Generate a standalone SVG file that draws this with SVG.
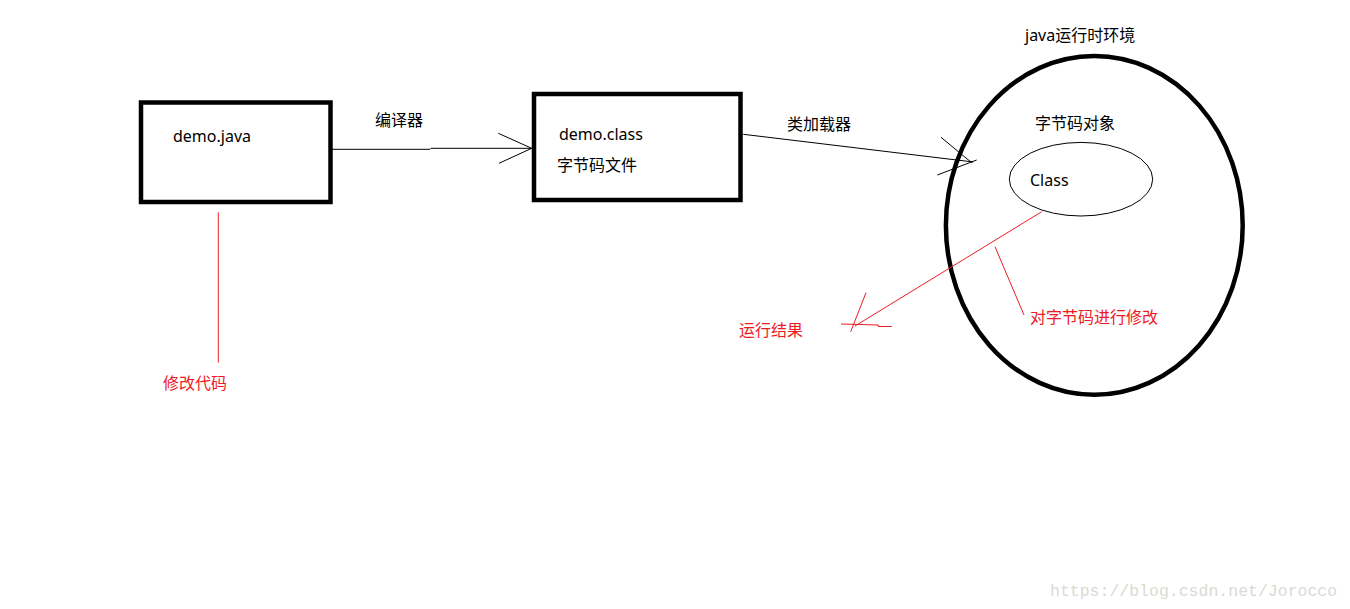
<svg xmlns="http://www.w3.org/2000/svg" width="1350" height="609" viewBox="0 0 1350 609">
<style>
  .box { fill: none; stroke: #000; stroke-width: 4.5; }
  .thin { fill: none; stroke: #000; stroke-width: 1; }
  .red { fill: none; stroke: #ed1c24; stroke-width: 1; }
  .t { font-family: "Noto Sans", "Noto Sans CJK SC", sans-serif; font-size: 16px; fill: #000; }
  .tr { font-family: "Noto Sans", "Noto Sans CJK SC", sans-serif; font-size: 16px; fill: #ed1c24; }
  .wm { font-family: "Liberation Mono", monospace; font-size: 16.5px; fill: #dcd9d4; }
</style>
<rect width="1350" height="609" fill="#fff"/>
<g id="demo-java">
  <rect class="box" x="141" y="102.5" width="189.5" height="99.5"/>
  <text class="t" x="173" y="142">demo.java</text>
</g>
<g id="demo-class">
  <rect class="box" x="534" y="94" width="206.5" height="106"/>
  <text class="t" x="559" y="140">demo.class</text>
  <text class="t" x="557" y="171">字节码文件</text>
</g>
<g id="jre">
  <ellipse class="box" cx="1094.3" cy="225.4" rx="148.4" ry="169.4"/>
  <text class="t" x="1025" y="41">java运行时环境</text>
  <text class="t" x="1035" y="129">字节码对象</text>
</g>
<g id="class-obj">
  <ellipse class="thin" cx="1081" cy="179.2" rx="71.7" ry="36.8"/>
  <text class="t" x="1030" y="186">Class</text>
</g>
<g id="labels">
  <text class="t" x="375" y="126">编译器</text>
  <text class="t" x="787" y="130">类加载器</text>
  <text class="tr" x="163" y="389">修改代码</text>
  <text class="tr" x="739" y="336">运行结果</text>
  <text class="tr" x="1030" y="323">对字节码进行修改</text>
</g>
<g id="connectors">
  <polyline class="thin" points="332,149.3 430,149.3 431,148.3 531.7,148.3"/>
  <line class="thin" x1="498.3" y1="133.3" x2="531.7" y2="148.3"/>
  <line class="thin" x1="499" y1="163.3" x2="531.7" y2="148.3"/>
  <line class="thin" x1="743.3" y1="134.3" x2="973.3" y2="162"/>
  <line class="thin" x1="941" y1="137.3" x2="971.7" y2="162.7"/>
  <line class="thin" x1="937.3" y1="175" x2="976.7" y2="160"/>
  <line class="red" x1="218.3" y1="212.3" x2="218.3" y2="362.7"/>
  <line class="red" x1="1041.7" y1="211.7" x2="855" y2="326"/>
  <line class="red" x1="866" y1="292.7" x2="850.7" y2="331.7"/>
  <polyline class="red" points="841,324 878.3,325 878.3,326.5 891.7,326.5"/>
  <line class="red" x1="995" y1="246.7" x2="1024" y2="315"/>
</g>
<text class="wm" x="1050" y="596">https://blog.csdn.net/Jorocco</text>
</svg>
